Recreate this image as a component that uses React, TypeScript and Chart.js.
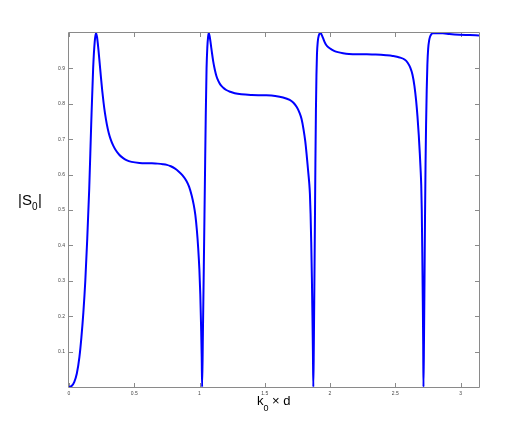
import { useEffect, useRef } from "react";
import { Chart, registerables } from "chart.js";

Chart.register(...registerables);

// k0 × d values (x)
const kd = [
  0, 0.02, 0.04, 0.06, 0.08, 0.095, 0.11, 0.125, 0.14, 0.155, 0.17, 0.185, 0.197, 0.207,
  0.215, 0.225, 0.235, 0.245, 0.255, 0.265, 0.275, 0.29, 0.305, 0.32, 0.34, 0.36, 0.385, 0.41, 0.44, 0.48, 0.54,
  0.62, 0.68, 0.72, 0.75, 0.78, 0.81, 0.84, 0.87, 0.9, 0.92, 0.94, 0.955, 0.968, 0.98, 0.99, 0.999, 1.006, 1.012, 1.017, 1.02,
  1.026, 1.033, 1.041, 1.048, 1.054, 1.06, 1.066, 1.071,
  1.078, 1.086, 1.095, 1.105, 1.117, 1.13, 1.145, 1.16, 1.18, 1.205, 1.235, 1.27, 1.32, 1.4, 1.5, 1.58, 1.64, 1.691,
  1.72, 1.745, 1.765, 1.782, 1.797, 1.81, 1.82, 1.828, 1.835, 1.841, 1.846, 1.851, 1.856, 1.861, 1.865, 1.869, 1.872,
  1.876, 1.88, 1.884, 1.888, 1.892, 1.896, 1.9, 1.906, 1.914, 1.928,
  1.937, 1.946, 1.958, 1.971, 1.99, 2.01, 2.035, 2.06, 2.1, 2.145, 2.25, 2.35, 2.43, 2.48, 2.533, 2.571, 2.595,
  2.615, 2.632, 2.647, 2.66, 2.67, 2.68, 2.688, 2.694, 2.699, 2.703, 2.707, 2.711, 2.714, 2.716,
  2.72, 2.724, 2.728, 2.732, 2.736, 2.741, 2.746, 2.752, 2.76, 2.767, 2.777, 2.787, 2.864, 2.915, 2.99, 3.07, 3.1416,
];

// |S0| values
const s0 = [
  0, 0.003, 0.014, 0.038, 0.085, 0.14, 0.21, 0.3, 0.42, 0.56, 0.74, 0.9, 0.975, 1.0,
  0.988, 0.955, 0.915, 0.874, 0.836, 0.803, 0.775, 0.742, 0.717, 0.699, 0.681, 0.668, 0.656, 0.648, 0.641, 0.636, 0.633,
  0.632, 0.631, 0.6295, 0.6275, 0.6235, 0.6175, 0.609, 0.598, 0.582, 0.566, 0.541, 0.516, 0.486, 0.442, 0.392, 0.332, 0.262, 0.172, 0.082, 0,
  0.15, 0.34, 0.57, 0.77, 0.9, 0.96, 0.99, 1.0,
  0.99, 0.97, 0.945, 0.92, 0.897, 0.878, 0.864, 0.854, 0.846, 0.839, 0.834, 0.83, 0.827, 0.825, 0.824, 0.822, 0.818, 0.811,
  0.803, 0.791, 0.776, 0.757, 0.728, 0.695, 0.66, 0.628, 0.6, 0.575, 0.545, 0.49, 0.41, 0.31, 0.21, 0.1, 0,
  0.12, 0.28, 0.45, 0.63, 0.78, 0.88, 0.94, 0.975, 0.993, 1.0,
  0.994, 0.986, 0.975, 0.966, 0.959, 0.954, 0.949, 0.946, 0.943, 0.941, 0.94, 0.939, 0.937, 0.935, 0.931, 0.925, 0.916,
  0.902, 0.882, 0.85, 0.808, 0.765, 0.712, 0.66, 0.615, 0.57, 0.5, 0.38, 0.24, 0.12, 0,
  0.13, 0.3, 0.48, 0.63, 0.74, 0.84, 0.91, 0.955, 0.98, 0.99, 0.997, 0.999, 0.999, 0.997, 0.995, 0.994, 0.993,
];

const xTickValues = [0, 0.5, 1, 1.5, 2, 2.5, 3];
const xTickLabels = ["0", "0.5", "1", "1.5", "2", "2.5", "3"];
const yTickValues = [0.1, 0.2, 0.3, 0.4, 0.5, 0.6, 0.7, 0.8, 0.9];
const yTickLabels = ["0.1", "0.2", "0.3", "0.4", "0.5", "0.6", "0.7", "0.8", "0.9"];
const xMin = 0;
const xMax = Math.PI;
const yMin = 0;
const yMax = 1;

const FONT = '"Liberation Sans", Arial, Helvetica, sans-serif';
const AXIS_COLOR = "#8a8a8a";
const TICK_LEN = 4;

const boxPlugin = {
  id: "matlabBox",
  beforeDatasetsDraw(chart: any) {
    const { ctx, chartArea, scales } = chart;
    const { left, right, top, bottom } = chartArea;
    ctx.save();
    ctx.strokeStyle = AXIS_COLOR;
    ctx.lineWidth = 1;
    ctx.beginPath();
    ctx.rect(left - 0.5, top - 0.5, right - left + 1, bottom - top + 1);
    ctx.stroke();
    ctx.beginPath();
    for (const v of xTickValues) {
      const px = Math.round(scales.x.getPixelForValue(v)) + 0.5;
      ctx.moveTo(px, bottom);
      ctx.lineTo(px, bottom - TICK_LEN);
      ctx.moveTo(px, top);
      ctx.lineTo(px, top + TICK_LEN);
    }
    for (const v of yTickValues) {
      const py = Math.round(scales.y.getPixelForValue(v)) + 0.5;
      ctx.moveTo(left, py);
      ctx.lineTo(left + TICK_LEN, py);
      ctx.moveTo(right, py);
      ctx.lineTo(right - TICK_LEN, py);
    }
    ctx.stroke();
    ctx.restore();
  },
};

const titlePlugin = {
  id: "axisTitles",
  afterDraw(chart: any) {
    const { ctx } = chart;
    ctx.save();
    ctx.fillStyle = "#000";
    ctx.textBaseline = "alphabetic";
    ctx.textAlign = "left";
    // y title |S0|
    let cx = 18;
    ctx.font = `15px ${FONT}`;
    ctx.fillText("|S", cx, 205);
    cx += ctx.measureText("|S").width;
    ctx.font = `10px ${FONT}`;
    ctx.fillText("0", cx, 210);
    cx += ctx.measureText("0").width + 0.5;
    ctx.font = `15px ${FONT}`;
    ctx.fillText("|", cx, 205);
    // x title k0 × d
    cx = 257;
    ctx.font = `13px ${FONT}`;
    ctx.fillText("k", cx, 405);
    cx += ctx.measureText("k").width;
    ctx.font = `9px ${FONT}`;
    ctx.fillText("0", cx, 410.5);
    cx += ctx.measureText("0").width;
    ctx.font = `13px ${FONT}`;
    ctx.fillText(" \u00d7 d", cx, 405);
    ctx.restore();
  },
};

export default function App() {
  const ref = useRef<HTMLCanvasElement>(null);
  useEffect(() => {
    if (!ref.current) return;
    const chart = new Chart(ref.current, {
      type: "line",
      data: {
        datasets: [
          {
            data: kd.map((x, i) => ({ x, y: s0[i] })),
            borderColor: "#0000ff",
            borderWidth: 2,
            pointRadius: 0,
            fill: false,
            cubicInterpolationMode: "monotone",
          },
        ],
      },
      options: {
        animation: false,
        responsive: false,
        layout: { padding: { top: 33, right: 51, left: 0, bottom: 0 } },
        plugins: { legend: { display: false }, tooltip: { enabled: false } },
        scales: {
          x: {
            type: "linear",
            min: xMin,
            max: xMax,
            afterBuildTicks: (s: any) => {
              s.ticks = xTickValues.map((v) => ({ value: v }));
            },
            afterFit: (s: any) => {
              s.height = 49;
            },
            grid: { display: false, drawTicks: false },
            border: { display: false },
            ticks: {
              padding: 4,
              autoSkip: false,
              maxRotation: 0,
              color: "#444",
              font: { size: 5, family: FONT },
              callback: (v: any) => {
                const i = xTickValues.indexOf(Number(v));
                return i >= 0 ? xTickLabels[i] : "";
              },
            },
          },
          y: {
            type: "linear",
            min: yMin,
            max: yMax,
            afterBuildTicks: (s: any) => {
              s.ticks = yTickValues.map((v) => ({ value: v }));
            },
            afterFit: (s: any) => {
              s.width = 69;
            },
            grid: { display: false, drawTicks: false },
            border: { display: false },
            ticks: {
              padding: 4,
              autoSkip: false,
              color: "#444",
              font: { size: 5, family: FONT },
              callback: (v: any) => {
                const i = yTickValues.findIndex((t) => Math.abs(t - Number(v)) < 1e-9);
                return i >= 0 ? yTickLabels[i] : "";
              },
            },
          },
        },
      },
      plugins: [boxPlugin, titlePlugin],
    } as any);
    return () => chart.destroy();
  }, []);
  return (
    <div style={{ position: "fixed", left: 0, top: 0, width: 530, height: 436, background: "#fff" }}>
      <canvas ref={ref} width={530} height={436} style={{ display: "block" }} />
    </div>
  );
}
